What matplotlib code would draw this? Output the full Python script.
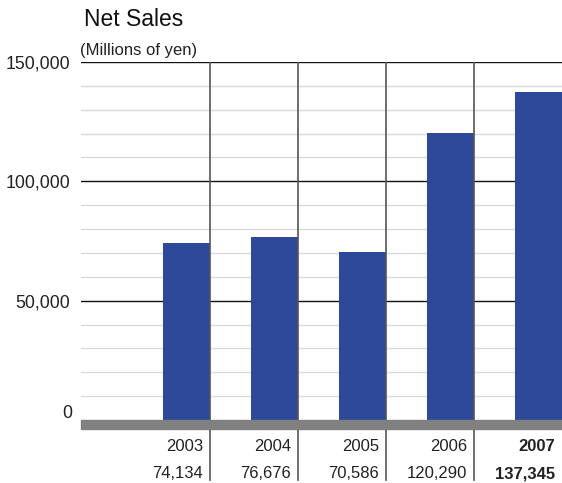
import numpy as np
import matplotlib.pyplot as plt
from matplotlib.patches import Rectangle

# data
years = ["2003", "2004", "2005", "2006", "2007"]
sales = [74134, 76676, 70586, 120290, 137345]
sales_labels = ["74,134", "76,676", "70,586", "120,290", "137,345"]
yticks = [50000, 100000, 150000]
ytick_labels = ["50,000", "100,000", "150,000"]

plt.rcParams['font.family'] = ['Liberation Sans', 'DejaVu Sans']

fig = plt.figure(figsize=(5.62, 4.83), dpi=100)
ax = fig.add_axes([81/562, 1-420/483, 1-81/562, (420-62)/483])

n = len(years)
barw = 0.53
# bars sit at the right edge of each column
lefts = np.arange(n) + 1 - barw
ax.bar(lefts, sales, width=barw, align='edge', color='#2e4999', zorder=3)

# grid lines
for v in range(10000, 150001, 10000):
    if v % 50000 == 0:
        ax.axhline(v, color='#111111', lw=1.0, zorder=2)
    else:
        ax.axhline(v, color='#dadada', lw=1.0, zorder=1)
for i in range(1, n):
    ax.axvline(i, color='#555555', lw=1.2, zorder=4)

ax.set_xlim(-0.463, n)
ax.set_ylim(0, 150000)
ax.set_xticks([])
ax.set_yticks(yticks)
ax.set_yticklabels(ytick_labels, fontsize=12.8, color='#222222')
ax.tick_params(axis='y', length=0, pad=8)
ax.text(-0.0185, 2900, "0", transform=ax.get_yaxis_transform(), ha='right', va='center',
        fontsize=12.8, color='#222222')
for s in ax.spines.values():
    s.set_visible(False)

# gray baseline
ax.add_patch(Rectangle((0, -0.025), 1, 0.025, transform=ax.transAxes,
                       color='#808080', clip_on=False, zorder=5))

# table below
for i in range(1, n):
    ax.plot([i, i], [-0.022, -0.168], transform=ax.get_xaxis_transform(),
            color='#555555', lw=1.2, clip_on=False)
for i in range(n):
    w = 'bold' if i == n - 1 else 'normal'
    ax.text(i + 0.92, -0.075, years[i], transform=ax.get_xaxis_transform(),
            ha='right', va='center', fontsize=12, color='#222222', fontweight=w)
    ax.text(i + 0.92, -0.15, sales_labels[i], transform=ax.get_xaxis_transform(),
            ha='right', va='center', fontsize=12, color='#222222', fontweight=w)

fig.text(84/562, 1-20/483, "Net Sales", fontsize=16.5, ha='left', va='center', color='#111111')
fig.text(80/562, 1-50/483, "(Millions of yen)", fontsize=12, ha='left', va='center', color='#222222')

fig.savefig("out.png", dpi=100)
